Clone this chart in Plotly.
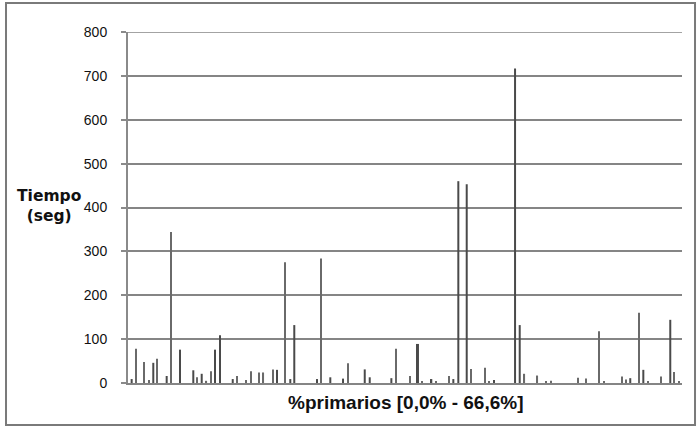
import plotly.graph_objects as go

# % primarios (x) y tiempo en segundos (y) — barras claras (finas)
pct_claras = [0.93, 1.92, 2.52, 3.52, 5.13, 8.33, 9.44, 9.98, 13.14, 14.15, 14.79,
              15.78, 16.29, 17.40, 18.91, 23.20, 26.45, 32.22, 33.87, 35.38, 36.99,
              38.59, 41.27, 42.88, 43.40, 47.67, 49.23, 50.25, 50.85, 54.06, 55.06,
              56.66, 57.19, 59.35, 59.87, 61.47, 62.48, 64.08, 65.68, 66.20]
tiempo_claras = [78, 48, 7, 55, 344, 13, 5, 27, 16, 7, 27,
                 24, 24, 31, 275, 284, 45, 78, 16, 3, 3,
                 16, 32, 35, 3, 21, 17, 3, 5, 12, 10,
                 118, 3, 15, 8, 160, 3, 15, 25, 3]

# barras oscuras (gruesas)
pct_oscuras = [0.44, 3.04, 4.65, 6.25, 7.85, 8.86, 10.46, 11.06, 12.59, 17.91,
               19.51, 19.99, 22.72, 24.32, 25.85, 28.46, 29.06, 31.66, 34.86, 36.46,
               39.11, 39.71, 40.72, 44.00, 46.53, 47.09, 60.38, 61.95, 65.19]
tiempo_oscuras = [9, 46, 16, 76, 29, 21, 76, 109, 9, 30,
                  9, 132, 9, 13, 10, 31, 13, 11, 89, 9,
                  9, 460, 453, 7, 717, 132, 11, 30, 144]

y_ticks = [0, 100, 200, 300, 400, 500, 600, 700, 800]
x_range = [0, 66.6]

FONT = "Liberation Sans, Arial, sans-serif"

fig = go.Figure()
fig.add_trace(go.Bar(x=pct_claras, y=tiempo_claras, width=0.13,
                     marker=dict(color="#6a6a6a", line=dict(width=0)), showlegend=False))
fig.add_trace(go.Bar(x=pct_oscuras, y=tiempo_oscuras, width=0.24,
                     marker=dict(color="#4a4a4a", line=dict(width=0)), showlegend=False))

fig.update_layout(
    width=699, height=428,
    margin=dict(l=128, r=17, t=32, b=45),
    paper_bgcolor="white", plot_bgcolor="white",
    barmode="overlay",
    font=dict(family=FONT, color="#1a1a1a"),
    xaxis=dict(range=x_range, showticklabels=False, ticks="", showgrid=False,
               zeroline=False, showline=True,
               linecolor="#858585", linewidth=1.7),
    yaxis=dict(range=[y_ticks[0], y_ticks[-1]], tickvals=y_ticks, showgrid=True,
               gridcolor="#858585", gridwidth=1.7, zeroline=False,
               showline=True, linecolor="#8a8a8a", linewidth=2,
               ticks="outside", ticklen=5, tickcolor="#8a8a8a", tickwidth=1.5,
               ticklabelstandoff=11,
               tickfont=dict(size=14, color="#111", family=FONT)),
    shapes=[
        dict(type="rect", xref="paper", yref="paper",
             x0=-0.2202, x1=1.0235, y0=-0.1197, y1=1.0826,
             line=dict(color="#7a7a7a", width=2), fillcolor="rgba(0,0,0,0)"),
        # línea de cuadrícula superior (800), que Plotly omite en el borde del rango
        dict(type="line", xref="paper", yref="y", x0=0, x1=1,
             y0=y_ticks[-1], y1=y_ticks[-1], layer="below",
             line=dict(color="#858585", width=1.7)),
    ],
    annotations=[
        dict(text="<b>Tiempo</b><br><b>(seg)</b>", xref="paper", yref="paper",
             x=-0.1426, y=0.504, xanchor="center", yanchor="middle", showarrow=False,
             font=dict(family="DejaVu Sans, sans-serif", size=15.5, color="#111")),
        dict(text="<b>%primarios [0,0% - 66,6%]</b>", xref="paper", yref="paper",
             x=0.5, y=(383 - 402) / 351, xanchor="center", yanchor="middle", showarrow=False,
             font=dict(family=FONT, size=19, color="#111")),
    ],
)

fig.write_html("out.html")
